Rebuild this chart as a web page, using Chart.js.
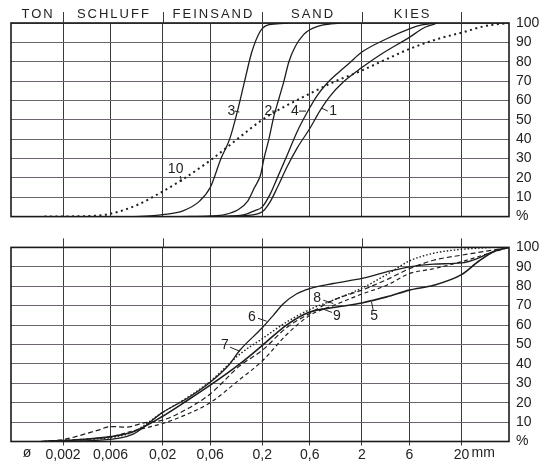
<!DOCTYPE html>
<html>
<head>
<meta charset="utf-8">
<script src="https://cdn.jsdelivr.net/npm/chart.js@4/dist/chart.umd.min.js"></script>
<style>
  body { margin: 0; background: #fff; }
  #wrap { position: relative; width: 551px; height: 466px; }
  canvas { position: absolute; left: 0; }
  #topChart { top: 0; }
  #bottomChart { top: 232px; }
</style>
</head>
<body>
<div id="wrap">
  <canvas id="topChart" width="551" height="232"></canvas>
  <canvas id="bottomChart" width="551" height="234"></canvas>
</div>
<script>
// grain size (mm) grid + labels
var gridSizes = [0.002, 0.006, 0.02, 0.06, 0.2, 0.6, 2, 6, 20];
var gridText = ['0,002', '0,006', '0,02', '0,06', '0,2', '0,6', '2', '6', '20'];
var pctTicks = [0, 10, 20, 30, 40, 50, 60, 70, 80, 90, 100];

// soil classes on top
var classNames = ['TON', 'SCHLUFF', 'FEINSAND', 'SAND', 'KIES'];
var classBounds = [0.0006, 0.002, 0.02, 0.2, 2, 20];

// upper panel - curves 1,2,3,4,10
var size1 = [0.08, 0.133, 0.2, 0.242, 0.283, 0.357, 0.449, 0.6, 0.755, 0.95, 1.3, 2, 3.06, 6, 8.6, 11.6];
var pass1 = [0, 0.5, 2.5, 8, 15, 26, 35.5, 45.5, 54.5, 62, 69.5, 77, 83.6, 92.6, 97.8, 100];
var size2 = [0.03, 0.06, 0.084, 0.114, 0.143, 0.167, 0.192, 0.208, 0.233, 0.262, 0.294, 0.33, 0.37, 0.43, 0.52, 0.6, 0.82, 1.2];
var pass2 = [0, 0.3, 1, 3.5, 8, 15, 21.5, 30, 40, 52, 61, 70, 80, 88, 94, 96.5, 99, 100];
var size3 = [0.0105, 0.0147, 0.02, 0.032, 0.047, 0.06, 0.077, 0.094, 0.112, 0.133, 0.157, 0.192, 0.216, 0.28, 0.36];
var pass3 = [0, 0.3, 1, 3, 8, 15, 30, 40, 54, 70, 85, 96, 98.5, 99.5, 100];
var size4 = [0.06, 0.0975, 0.133, 0.167, 0.2, 0.242, 0.283, 0.357, 0.449, 0.567, 0.7, 0.88, 1.11, 1.51, 2, 3.6, 6, 8, 11];
var pass4 = [0, 0.3, 1, 3, 5, 12, 20, 32, 44, 54, 62, 68.5, 73.5, 79.5, 85, 92, 97, 99, 100];
var size10 = [0.0013, 0.0044, 0.006, 0.0111, 0.02, 0.0313, 0.06, 0.112, 0.2, 0.313, 0.6, 1.04, 2, 3.6, 6, 12, 20, 35, 60];
var pass10 = [0, 0.5, 1.5, 6, 13, 19, 29, 40, 50, 56, 63.5, 69.5, 75.5, 81.5, 86.6, 92, 95, 98.5, 100];

// lower panel - curves 5..9
var size5 = [0.0013, 0.003, 0.006, 0.0101, 0.02, 0.035, 0.06, 0.119, 0.2, 0.35, 0.6, 1.03, 2, 3.55, 6, 10.5, 20, 30, 45, 60];
var pass5 = [0, 1, 2.5, 5, 13, 21, 29, 40, 49.5, 60, 66.7, 69, 71.4, 74.5, 78, 80.5, 86, 93, 98.5, 100];
var size6 = [0.0012, 0.0047, 0.0101, 0.02, 0.0348, 0.06, 0.091, 0.119, 0.2, 0.258, 0.325, 0.44, 0.6, 1.03, 2, 3.55, 6, 10.5, 20, 28, 40, 60];
var pass6 = [0, 0.7, 3.8, 15, 22, 30.5, 39, 47, 58.6, 65, 71, 76, 78.8, 81.4, 84, 87.4, 90, 91.4, 92, 94, 97.5, 100];
var size7 = [0.0013, 0.003, 0.006, 0.0101, 0.02, 0.035, 0.06, 0.119, 0.2, 0.35, 0.6, 1.03, 2, 3.55, 6, 10.5, 20, 40];
var pass7 = [0, 1, 2, 5, 15, 22.5, 31, 45, 53, 61.5, 68, 72.8, 79, 86, 93, 97, 99, 100];
var size8 = [0.0012, 0.002, 0.0044, 0.006, 0.0087, 0.0127, 0.02, 0.035, 0.06, 0.119, 0.2, 0.35, 0.6, 1.03, 2, 3.55, 6, 10.5, 20, 33, 60];
var pass8 = [0, 1, 5.7, 7.7, 7.4, 9.5, 11, 16.7, 24.5, 39, 47, 58.6, 66, 72.8, 78, 83.4, 89, 93.4, 96, 97.8, 100];
var size9 = [0.0013, 0.002, 0.006, 0.0101, 0.02, 0.035, 0.06, 0.119, 0.2, 0.35, 0.6, 1.03, 2, 3.55, 6, 10.5, 20, 33, 60];
var pass9 = [0, 0.5, 2.5, 5.5, 9.3, 14, 20, 32, 41.5, 55, 65, 70, 76, 80.5, 86.5, 89, 92.6, 96, 100];

// curve numbers: text pos + leader line (mm, %)
var topNotes = [
  { t: '3', x: 0.098, y: 54.5, from: [0.106, 54.5], to: [0.118, 54] },
  { t: '2', x: 0.23, y: 54.5, from: [0.25, 54.5], to: [0.28, 54.5] },
  { t: '4', x: 0.426, y: 54.5, from: [0.467, 54.5], to: [0.55, 54.5] },
  { t: '1', x: 1.03, y: 54.5, from: [0.79, 56], to: [0.91, 54.5] },
  { t: '10', x: 0.027, y: 24.5, from: [0.03, 21], to: [0.031, 18] }
];
var bottomNotes = [
  { t: '6', x: 0.157, y: 64.2, from: [0.181, 63.5], to: [0.221, 62] },
  { t: '7', x: 0.0845, y: 49.6, from: [0.095, 48.6], to: [0.119, 46.5] },
  { t: '8', x: 0.71, y: 74.1, from: [0.82, 72.8], to: [1.03, 71.1] },
  { t: '9', x: 1.12, y: 64.5, from: [0.79, 68.5], to: [1.0, 66.5] },
  { t: '5', x: 2.65, y: 64.5, from: [2.5, 71.9], to: [2.6, 67.6] }
];

var FONT = 'Liberation Sans';
var INK = '#222';

function series(sizes, pass) {
  return sizes.map(function(s, i) { return { x: s, y: pass[i] }; });
}

function curve(sizes, pass, dash, width) {
  return {
    data: series(sizes, pass),
    borderColor: '#1e1e1e',
    borderWidth: width || 1.3,
    borderDash: dash || [],
    pointRadius: 0,
    fill: false,
    cubicInterpolationMode: 'monotone'
  };
}

function xScale(showLabels, h) {
  return {
    type: 'logarithmic',
    min: 0.0006,
    max: 60,
    afterBuildTicks: function(scale) {
      scale.ticks = gridSizes.map(function(v) { return { value: v }; });
    },
    afterFit: function(scale) { scale.height = h; },
    grid: { color: '#3a3a3a', lineWidth: 1, drawTicks: showLabels, tickLength: 4 },
    border: { display: false },
    ticks: {
      display: showLabels, autoSkip: false, maxRotation: 0, padding: 1,
      color: INK, font: { family: FONT, size: 14 },
      callback: function(v, i) { return gridText[i]; }
    }
  };
}

function yScale() {
  return {
    position: 'right',
    min: 0,
    max: 100,
    afterBuildTicks: function(scale) {
      scale.ticks = pctTicks.map(function(v) { return { value: v }; });
    },
    afterFit: function(scale) { scale.width = 42; },
    grid: { color: '#6d6470', lineWidth: 1, drawTicks: false },
    border: { display: false },
    ticks: {
      autoSkip: false, padding: 7, color: INK, font: { family: FONT, size: 14 },
      callback: function(v) { return v === 0 ? '%' : String(v); }
    }
  };
}

// frame, marks above plot, soil classes, curve numbers
var paperPlugin = {
  id: 'paper',
  afterDatasetsDraw: function(chart, args, opts) {
    var ctx = chart.ctx, a = chart.chartArea;
    var xs = chart.scales.x, ys = chart.scales.y;
    ctx.save();
    ctx.strokeStyle = '#1a1a1a';
    ctx.lineWidth = 1.6;
    ctx.strokeRect(a.left, a.top, a.right - a.left, a.bottom - a.top);

    ctx.lineWidth = 1;
    ctx.strokeStyle = '#3a3a3a';
    classBounds.slice(1).forEach(function(v) {
      var x = Math.round(xs.getPixelForValue(v)) + 0.5;
      ctx.beginPath();
      ctx.moveTo(x, a.top - opts.markLen);
      ctx.lineTo(x, a.top);
      ctx.stroke();
    });

    ctx.fillStyle = INK;
    if (opts.classes) {
      ctx.font = '13px "' + FONT + '"';
      if ('letterSpacing' in ctx) ctx.letterSpacing = '2px';
      ctx.textAlign = 'center';
      ctx.textBaseline = 'alphabetic';
      classNames.forEach(function(n, i) {
        var c = Math.sqrt(classBounds[i] * classBounds[i + 1]);
        ctx.fillText(n, xs.getPixelForValue(c) + 1, 18);
      });
      if ('letterSpacing' in ctx) ctx.letterSpacing = '0px';
    }

    ctx.font = '14px "' + FONT + '"';
    ctx.textAlign = 'center';
    ctx.textBaseline = 'middle';
    ctx.lineWidth = 1;
    ctx.strokeStyle = '#222';
    opts.notes.forEach(function(n) {
      ctx.fillText(n.t, xs.getPixelForValue(n.x), ys.getPixelForValue(n.y));
      ctx.beginPath();
      ctx.moveTo(xs.getPixelForValue(n.from[0]), ys.getPixelForValue(n.from[1]));
      ctx.lineTo(xs.getPixelForValue(n.to[0]), ys.getPixelForValue(n.to[1]));
      ctx.stroke();
    });

    if (opts.unit) {
      ctx.textBaseline = 'top';
      ctx.textAlign = 'left';
      var x20 = xs.getPixelForValue(20);
      ctx.fillText('mm', x20 + 10, a.bottom + 5);
      ctx.textAlign = 'center';
      ctx.fillText('ø', 27, a.bottom + 5);
    }
    ctx.restore();
  }
};

function baseOptions(pad, xh, showLabels, plug) {
  return {
    responsive: false,
    animation: false,
    layout: { padding: { top: pad, left: 11, right: 0, bottom: 0 } },
    scales: { x: xScale(showLabels, xh), y: yScale() },
    plugins: { legend: { display: false }, tooltip: { enabled: false }, paper: plug }
  };
}

new Chart(document.getElementById('topChart'), {
  type: 'line',
  data: {
    datasets: [
      curve(size1, pass1),
      curve(size2, pass2),
      curve(size3, pass3),
      curve(size4, pass4),
      curve(size10, pass10, [2, 3.5], 2)
    ]
  },
  options: baseOptions(23, 13, false, { markLen: 11, classes: true, notes: topNotes, unit: false }),
  plugins: [paperPlugin]
});

new Chart(document.getElementById('bottomChart'), {
  type: 'line',
  data: {
    datasets: [
      curve(size5, pass5, [], 1.6),
      curve(size6, pass6),
      curve(size7, pass7, [1.5, 2], 1.4),
      curve(size8, pass8, [5, 3], 1.2),
      curve(size9, pass9, [4, 3], 1.2)
    ]
  },
  options: baseOptions(15, 24.5, true, { markLen: 9, classes: false, notes: bottomNotes, unit: true }),
  plugins: [paperPlugin]
});
</script>
</body>
</html>
